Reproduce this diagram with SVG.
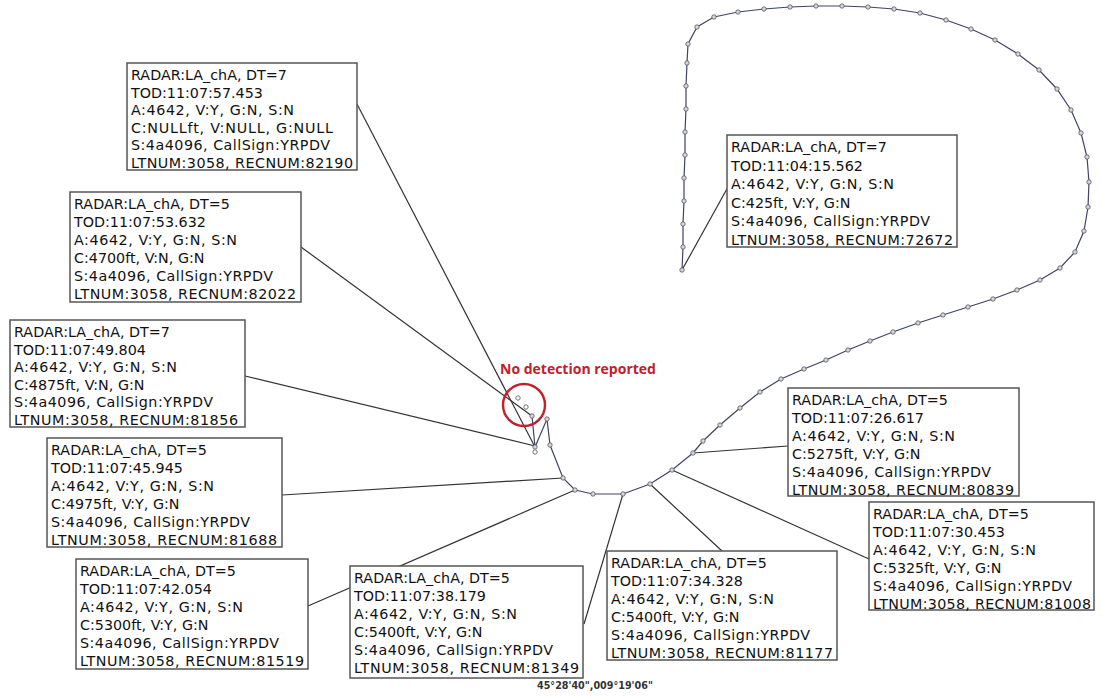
<svg xmlns="http://www.w3.org/2000/svg" width="1102" height="698" viewBox="0 0 1102 698">
<style>
.box rect{fill:#fff;stroke:#555;stroke-width:1.5}
.box text{font-family:"DejaVu Sans",Verdana,sans-serif;font-size:14.3px;fill:#111}
.conn line{stroke:#333;stroke-width:1.2}
.track{fill:none;stroke:#3d4466;stroke-width:1.2}
.dot{fill:#d8d8d8;stroke:#555;stroke-width:0.8}
.hollow{fill:#fff;stroke:#666;stroke-width:0.9}
.note{font-family:"Open Sans","Liberation Sans",sans-serif;font-weight:bold;font-size:14px;fill:#c2202b}
.coord{font-family:"DejaVu Sans",sans-serif;font-weight:bold;font-size:9.6px;fill:#333}
</style>
<rect width="1102" height="698" fill="#fff"/>
<g id="connectors" class="conn">
<line x1="357" y1="104" x2="535" y2="447"/>
<line x1="301" y1="247" x2="532" y2="416"/>
<line x1="245" y1="376" x2="535" y2="446"/>
<line x1="282" y1="495" x2="563" y2="478"/>
<line x1="308" y1="606" x2="575" y2="490"/>
<line x1="584" y1="624" x2="623" y2="494"/>
<line x1="722" y1="551" x2="650" y2="484"/>
<line x1="869" y1="559" x2="672" y2="470"/>
<line x1="788" y1="446" x2="693" y2="453"/>
<line x1="728" y1="187" x2="682" y2="270"/>
</g>
<g id="track">
<polyline class="track" points="682,270 683,247 683,224 684,201 684,178 685,155 685,132 686,109 686,86 687,63 688,44 697,27 714,17 738,12 764,9 790,7 816,6 842,6 868,7 894,9 920,13 946,20 971,29 995,40 1018,54 1039,70 1057,89 1071,110 1081,133 1087,157 1089,182 1088,207 1084,231 1075,252 1060,268 1040,280 1017,290 993,299 968,307 943,315 918,323 893,332 870,341 848,350 826,360 804,369 781,379 760,392 740,408 720,425 703,441 693,453 672,470 650,484 623,494 593,494 575,490 563,478 550,445 547,419 535,447 532,416"/>
<g id="plots">
<circle class="dot" cx="682" cy="270" r="2.2"/><circle class="dot" cx="683" cy="247" r="2.2"/><circle class="dot" cx="683" cy="224" r="2.2"/><circle class="dot" cx="684" cy="201" r="2.2"/><circle class="dot" cx="684" cy="178" r="2.2"/><circle class="dot" cx="685" cy="155" r="2.2"/><circle class="dot" cx="685" cy="132" r="2.2"/><circle class="dot" cx="686" cy="109" r="2.2"/><circle class="dot" cx="686" cy="86" r="2.2"/><circle class="dot" cx="687" cy="63" r="2.2"/><circle class="dot" cx="688" cy="44" r="2.2"/><circle class="dot" cx="697" cy="27" r="2.2"/>
<circle class="dot" cx="714" cy="17" r="2.2"/><circle class="dot" cx="738" cy="12" r="2.2"/><circle class="dot" cx="764" cy="9" r="2.2"/><circle class="dot" cx="790" cy="7" r="2.2"/><circle class="dot" cx="816" cy="6" r="2.2"/><circle class="dot" cx="842" cy="6" r="2.2"/><circle class="dot" cx="868" cy="7" r="2.2"/><circle class="dot" cx="894" cy="9" r="2.2"/><circle class="dot" cx="920" cy="13" r="2.2"/><circle class="dot" cx="946" cy="20" r="2.2"/><circle class="dot" cx="971" cy="29" r="2.2"/><circle class="dot" cx="995" cy="40" r="2.2"/><circle class="dot" cx="1018" cy="54" r="2.2"/><circle class="dot" cx="1039" cy="70" r="2.2"/><circle class="dot" cx="1057" cy="89" r="2.2"/><circle class="dot" cx="1071" cy="110" r="2.2"/><circle class="dot" cx="1081" cy="133" r="2.2"/><circle class="dot" cx="1087" cy="157" r="2.2"/><circle class="dot" cx="1089" cy="182" r="2.2"/><circle class="dot" cx="1088" cy="207" r="2.2"/><circle class="dot" cx="1084" cy="231" r="2.2"/><circle class="dot" cx="1075" cy="252" r="2.2"/><circle class="dot" cx="1060" cy="268" r="2.2"/><circle class="dot" cx="1040" cy="280" r="2.2"/><circle class="dot" cx="1017" cy="290" r="2.2"/><circle class="dot" cx="993" cy="299" r="2.2"/><circle class="dot" cx="968" cy="307" r="2.2"/><circle class="dot" cx="943" cy="315" r="2.2"/><circle class="dot" cx="918" cy="323" r="2.2"/><circle class="dot" cx="893" cy="332" r="2.2"/><circle class="dot" cx="870" cy="341" r="2.2"/><circle class="dot" cx="848" cy="350" r="2.2"/><circle class="dot" cx="826" cy="360" r="2.2"/><circle class="dot" cx="804" cy="369" r="2.2"/><circle class="dot" cx="781" cy="379" r="2.2"/><circle class="dot" cx="760" cy="392" r="2.2"/><circle class="dot" cx="740" cy="408" r="2.2"/><circle class="dot" cx="720" cy="425" r="2.2"/><circle class="dot" cx="703" cy="441" r="2.2"/><circle class="dot" cx="693" cy="453" r="2.2"/><circle class="dot" cx="672" cy="470" r="2.2"/><circle class="dot" cx="650" cy="484" r="2.2"/><circle class="dot" cx="623" cy="494" r="2.2"/><circle class="dot" cx="593" cy="494" r="2.2"/><circle class="dot" cx="575" cy="490" r="2.2"/><circle class="dot" cx="563" cy="478" r="2.2"/><circle class="dot" cx="550" cy="445" r="2.2"/><circle class="dot" cx="547" cy="419" r="2.2"/><circle class="dot" cx="535" cy="447" r="2.2"/><circle class="dot" cx="532" cy="416" r="2.2"/>
<circle class="hollow" cx="518" cy="398" r="2.2"/><circle class="hollow" cx="526" cy="407" r="2.2"/><circle class="hollow" cx="535" cy="452" r="2.2"/>
</g>
</g>
<g id="no-detection">
<circle cx="524" cy="405" r="21" fill="none" stroke="#c2202b" stroke-width="2.4"/>
<text class="note" x="500" y="374">No detection reported</text>
</g>
<g id="box-82190" class="box"><rect x="127" y="63" width="230" height="107"/>
<text x="131" y="80">RADAR:LA_chA, DT=7</text><text x="131" y="97.5">TOD:11:07:57.453</text><text x="131" y="115" textLength="163">A:4642, V:Y, G:N, S:N</text><text x="131" y="132.5" textLength="202">C:NULLft, V:NULL, G:NULL</text><text x="131" y="150" textLength="199">S:4a4096, CallSign:YRPDV</text><text x="131" y="167.5" textLength="222">LTNUM:3058, RECNUM:82190</text></g>
<g id="box-82022" class="box"><rect x="70" y="192" width="231" height="110"/>
<text x="74" y="209">RADAR:LA_chA, DT=5</text><text x="74" y="227">TOD:11:07:53.632</text><text x="74" y="245" textLength="163">A:4642, V:Y, G:N, S:N</text><text x="74" y="263">C:4700ft, V:N, G:N</text><text x="74" y="281" textLength="199">S:4a4096, CallSign:YRPDV</text><text x="74" y="299" textLength="222">LTNUM:3058, RECNUM:82022</text></g>
<g id="box-81856" class="box"><rect x="10" y="320" width="235" height="107"/>
<text x="14" y="337">RADAR:LA_chA, DT=7</text><text x="14" y="354.5">TOD:11:07:49.804</text><text x="14" y="372" textLength="163">A:4642, V:Y, G:N, S:N</text><text x="14" y="389.5">C:4875ft, V:N, G:N</text><text x="14" y="407" textLength="199">S:4a4096, CallSign:YRPDV</text><text x="14" y="424.5" textLength="224">LTNUM:3058, RECNUM:81856</text></g>
<g id="box-81688" class="box"><rect x="47" y="438" width="235" height="109"/>
<text x="51" y="455">RADAR:LA_chA, DT=5</text><text x="51" y="473">TOD:11:07:45.945</text><text x="51" y="491" textLength="163">A:4642, V:Y, G:N, S:N</text><text x="51" y="509">C:4975ft, V:Y, G:N</text><text x="51" y="527" textLength="199">S:4a4096, CallSign:YRPDV</text><text x="51" y="545" textLength="226">LTNUM:3058, RECNUM:81688</text></g>
<g id="box-81519" class="box"><rect x="76" y="559" width="232" height="110"/>
<text x="80" y="576">RADAR:LA_chA, DT=5</text><text x="80" y="594">TOD:11:07:42.054</text><text x="80" y="612" textLength="163">A:4642, V:Y, G:N, S:N</text><text x="80" y="630">C:5300ft, V:Y, G:N</text><text x="80" y="648" textLength="199">S:4a4096, CallSign:YRPDV</text><text x="80" y="666" textLength="224">LTNUM:3058, RECNUM:81519</text></g>
<g id="box-81349" class="box"><rect x="350" y="566" width="233" height="112"/>
<text x="354" y="583">RADAR:LA_chA, DT=5</text><text x="354" y="601">TOD:11:07:38.179</text><text x="354" y="619" textLength="163">A:4642, V:Y, G:N, S:N</text><text x="354" y="637">C:5400ft, V:Y, G:N</text><text x="354" y="655" textLength="199">S:4a4096, CallSign:YRPDV</text><text x="354" y="673" textLength="225">LTNUM:3058, RECNUM:81349</text></g>
<g id="box-81177" class="box"><rect x="607" y="551" width="230" height="109"/>
<text x="611" y="568">RADAR:LA_chA, DT=5</text><text x="611" y="586">TOD:11:07:34.328</text><text x="611" y="604" textLength="163">A:4642, V:Y, G:N, S:N</text><text x="611" y="622">C:5400ft, V:Y, G:N</text><text x="611" y="640" textLength="199">S:4a4096, CallSign:YRPDV</text><text x="611" y="658" textLength="222">LTNUM:3058, RECNUM:81177</text></g>
<g id="box-81008" class="box"><rect x="869" y="502" width="225" height="108"/>
<text x="873" y="519">RADAR:LA_chA, DT=5</text><text x="873" y="537">TOD:11:07:30.453</text><text x="873" y="555" textLength="163">A:4642, V:Y, G:N, S:N</text><text x="873" y="573">C:5325ft, V:Y, G:N</text><text x="873" y="591" textLength="199">S:4a4096, CallSign:YRPDV</text><text x="873" y="609" textLength="218">LTNUM:3058, RECNUM:81008</text></g>
<g id="box-80839" class="box"><rect x="788" y="388" width="231" height="108"/>
<text x="792" y="405">RADAR:LA_chA, DT=5</text><text x="792" y="423">TOD:11:07:26.617</text><text x="792" y="441" textLength="163">A:4642, V:Y, G:N, S:N</text><text x="792" y="459">C:5275ft, V:Y, G:N</text><text x="792" y="477" textLength="199">S:4a4096, CallSign:YRPDV</text><text x="792" y="495" textLength="222">LTNUM:3058, RECNUM:80839</text></g>
<g id="box-72672" class="box"><rect x="727" y="135" width="230" height="112"/>
<text x="731" y="152">RADAR:LA_chA, DT=7</text><text x="731" y="170.5">TOD:11:04:15.562</text><text x="731" y="189" textLength="163">A:4642, V:Y, G:N, S:N</text><text x="731" y="207.5">C:425ft, V:Y, G:N</text><text x="731" y="226" textLength="199">S:4a4096, CallSign:YRPDV</text><text x="731" y="244.5" textLength="222">LTNUM:3058, RECNUM:72672</text></g>
<text class="coord" x="537" y="689">45°28'40",009°19'06"</text>
</svg>
